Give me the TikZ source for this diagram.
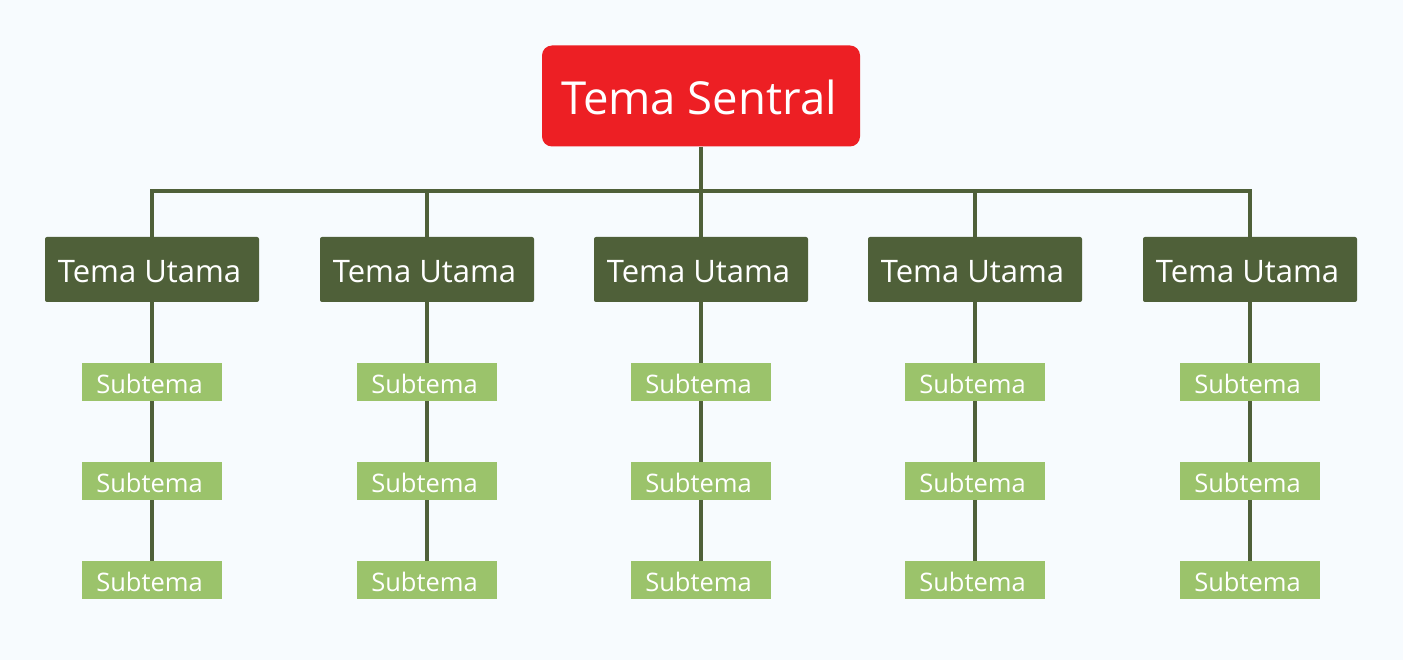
\documentclass[tikz,border=0pt]{standalone}
\usepackage{fontspec}
\setmainfont{Open Sans}
\definecolor{bg}{HTML}{F7FBFE}
\definecolor{central}{HTML}{ED1F24}
\definecolor{olive}{HTML}{4F6039}
\definecolor{lightgreen}{HTML}{9BC36B}
\tikzset{
  centralbox/.style={fill=central, text=white, rounded corners=10pt, minimum width=318pt, minimum height=101pt, inner sep=0pt, font=\fontsize{45.5}{54}\selectfont},
  mainbox/.style={fill=olive, text=white, rounded corners=2pt, minimum width=214pt, minimum height=65pt, inner sep=0pt, font=\fontsize{31}{37}\selectfont},
  subbox/.style={fill=lightgreen, text=white, minimum width=140pt, minimum height=38pt, inner sep=0pt, font=\fontsize{25.5}{30}\selectfont},
  lbl/.style={text=white, inner sep=0pt},
  link/.style={draw=olive, line width=3.2pt}
}
\begin{document}
\begin{tikzpicture}[x=1pt,y=-1pt]
\useasboundingbox[fill=bg] (0,0) rectangle (1403,660);
\node[centralbox] (c) at (701,96) {};
\node[lbl, font=\fontsize{45.5}{54}\selectfont] (ct) at (699,97) {Tema Sentral};
\coordinate (j) at (701,191);
\draw[link] (c.south) -- (j);
\foreach \i/\x in {1/152,2/427,3/701,4/975,5/1250}{
  \node[mainbox] (t\i) at (\x,269.5) {};
  \node[lbl, font=\fontsize{31}{37}\selectfont] (tt\i) at (\x-2.5,271.5) {Tema Utama};
  \node[subbox] (s\i a) at (\x,382) {};
  \node[subbox] (s\i b) at (\x,481) {};
  \node[subbox] (s\i c) at (\x,580) {};
  \foreach \r/\y in {a/382,b/481,c/580}{
    \node[lbl, font=\fontsize{25.5}{30}\selectfont] (st\i\r) at (\x-2.5,\y+1.5) {Subtema};
  }
  \draw[link] (j) -| (t\i.north);
  \draw[link] (t\i.south) -- (s\i a.north);
  \draw[link] (s\i a.south) -- (s\i b.north);
  \draw[link] (s\i b.south) -- (s\i c.north);
}
\end{tikzpicture}
\end{document}
